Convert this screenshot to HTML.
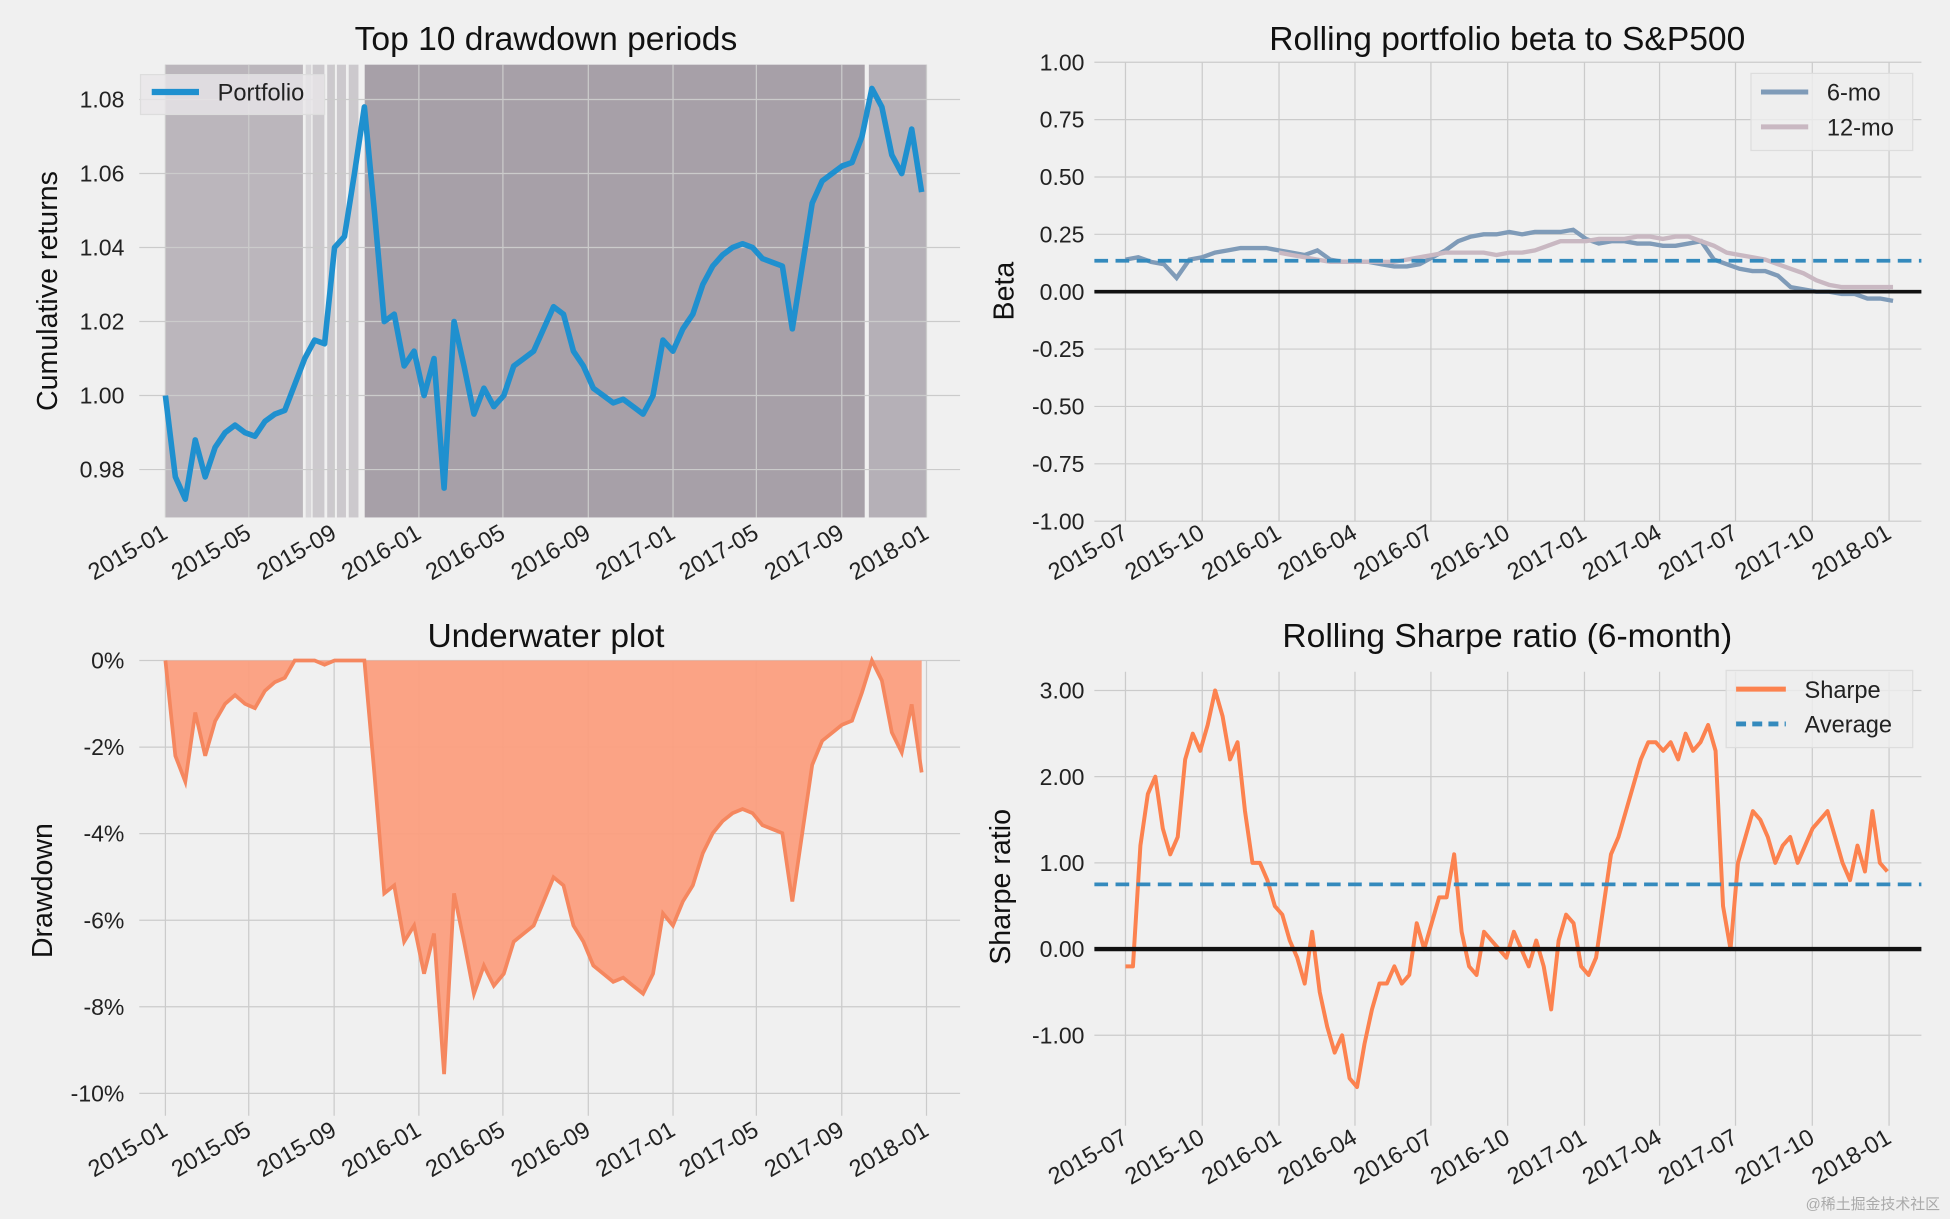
<!DOCTYPE html>
<html><head><meta charset="utf-8"><style>
html,body{margin:0;padding:0;background:#f0f0f0;}
svg{display:block;font-family:"Liberation Sans","DejaVu Sans",sans-serif;}
</style></head><body>
<svg id="root" width="1950" height="1219" viewBox="0 0 1568 980" preserveAspectRatio="none" xmlns="http://www.w3.org/2000/svg">
<rect x="0" y="0" width="1568" height="980" fill="#f0f0f0"/>
<g id="p1"></g>
<g id="p2"></g>
<g id="p3"></g>
<g id="p4"></g>
<text x="1560" y="972" font-size="12" fill="#aaaaaa" text-anchor="end" font-family="'Liberation Sans','Noto Sans CJK SC',sans-serif">@稀土掘金技术社区</text>
</svg>
<script>
// ---------- data ----------
const portfolioStart = '2015-01-01';
const portfolioStepDays = 14.33;
const portfolioValues = [1.000,0.978,0.972,0.988,0.978,0.986,0.990,0.992,0.990,0.989,0.993,0.995,0.996,1.003,1.010,1.015,1.014,1.040,1.043,1.060,1.078,1.050,1.020,1.022,1.008,1.012,1.000,1.010,0.975,1.020,1.008,0.995,1.002,0.997,1.000,1.008,1.010,1.012,1.018,1.024,1.022,1.012,1.008,1.002,1.000,0.998,0.999,0.997,0.995,1.000,1.015,1.012,1.018,1.022,1.030,1.035,1.038,1.040,1.041,1.040,1.037,1.036,1.035,1.018,1.035,1.052,1.058,1.060,1.062,1.063,1.070,1.083,1.078,1.065,1.060,1.072,1.055];
const drawdownStarts = ['2015-01-01','2015-07-22','2015-08-01','2015-08-22','2015-09-05','2015-09-22','2015-10-15','2017-10-10'];
const drawdownEnds   = ['2015-07-18','2015-07-30','2015-08-18','2015-09-02','2015-09-18','2015-10-06','2017-10-04','2018-01-01'];
const drawdownShade  = [0.45,0.2,0.3,0.3,0.3,0.3,0.62,0.5];
const cumTicks = [0.98,1.00,1.02,1.04,1.06,1.08];
const cumTickLabels = ['0.98','1.00','1.02','1.04','1.06','1.08'];
const ddTicks = [0,-0.02,-0.04,-0.06,-0.08,-0.10];
const ddTickLabels = ['0%','-2%','-4%','-6%','-8%','-10%'];
const leftDateTicks = ['2015-01-01','2015-05-01','2015-09-01','2016-01-01','2016-05-01','2016-09-01','2017-01-01','2017-05-01','2017-09-01','2018-01-01'];
const leftDateLabels = ['2015-01','2015-05','2015-09','2016-01','2016-05','2016-09','2017-01','2017-05','2017-09','2018-01'];

const betaStart = '2015-07-01';
const betaStepDays = 15.33;
const beta6 = [0.14,0.15,0.13,0.12,0.06,0.14,0.15,0.17,0.18,0.19,0.19,0.19,0.18,0.17,0.16,0.18,0.14,0.13,0.13,0.13,0.12,0.11,0.11,0.12,0.15,0.18,0.22,0.24,0.25,0.25,0.26,0.25,0.26,0.26,0.26,0.27,0.23,0.21,0.22,0.22,0.21,0.21,0.20,0.20,0.21,0.22,0.14,0.12,0.10,0.09,0.09,0.07,0.02,0.01,0.00,0.00,-0.01,-0.01,-0.03,-0.03,-0.04];
const beta12 = [null,null,null,null,null,null,null,null,null,null,null,null,0.17,0.16,0.15,0.14,0.13,0.13,0.13,0.13,0.13,0.13,0.14,0.15,0.16,0.17,0.17,0.17,0.17,0.16,0.17,0.17,0.18,0.20,0.22,0.22,0.22,0.23,0.23,0.23,0.24,0.24,0.23,0.24,0.24,0.22,0.20,0.17,0.16,0.15,0.14,0.12,0.10,0.08,0.05,0.03,0.02,0.02,0.02,0.02,0.02];
const betaAverage = 0.135;
const betaTicks = [-1,-0.75,-0.5,-0.25,0,0.25,0.5,0.75,1];
const betaTickLabels = ['-1.00','-0.75','-0.50','-0.25','0.00','0.25','0.50','0.75','1.00'];
const rightDateTicks = ['2015-07-01','2015-10-01','2016-01-01','2016-04-01','2016-07-01','2016-10-01','2017-01-01','2017-04-01','2017-07-01','2017-10-01','2018-01-01'];
const rightDateLabels = ['2015-07','2015-10','2016-01','2016-04','2016-07','2016-10','2017-01','2017-04','2017-07','2017-10','2018-01'];

const sharpeStart = '2015-07-01';
const sharpeStepDays = 8.95;
const sharpeValues = [-0.2,-0.2,1.2,1.8,2.0,1.4,1.1,1.3,2.2,2.5,2.3,2.6,3.0,2.7,2.2,2.4,1.6,1.0,1.0,0.8,0.5,0.4,0.1,-0.1,-0.4,0.2,-0.5,-0.9,-1.2,-1.0,-1.5,-1.6,-1.1,-0.7,-0.4,-0.4,-0.2,-0.4,-0.3,0.3,0.0,0.3,0.6,0.6,1.1,0.2,-0.2,-0.3,0.2,0.1,0.0,-0.1,0.2,0.0,-0.2,0.1,-0.2,-0.7,0.1,0.4,0.3,-0.2,-0.3,-0.1,0.5,1.1,1.3,1.6,1.9,2.2,2.4,2.4,2.3,2.4,2.2,2.5,2.3,2.4,2.6,2.3,0.5,0.0,1.0,1.3,1.6,1.5,1.3,1.0,1.2,1.3,1.0,1.2,1.4,1.5,1.6,1.3,1.0,0.8,1.2,0.9,1.6,1.0,0.9];
const sharpeAverage = 0.75;
const sharpeTicks = [-1,0,1,2,3];
const sharpeTickLabels = ['-1.00','0.00','1.00','2.00','3.00'];

// ---------- helpers ----------
const NS='http://www.w3.org/2000/svg';
function mk(parent,tag,attrs){const e=document.createElementNS(NS,tag);for(const k in attrs)e.setAttribute(k,attrs[k]);parent.appendChild(e);return e;}
const day=86400000;
function t(s){return Date.parse(s+'T00:00:00Z');}
function dateAt(start,step,i){return t(start)+i*step*day;}
function linX(d0,d1,p0,p1){const a=t(d0),b=t(d1);return v=>p0+(v-a)/(b-a)*(p1-p0);}
function linY(v0,v1,p0,p1){return v=>p0+(v-v0)/(v1-v0)*(p1-p0);}

function grid(g,xs,ys,x0,x1,y0,y1){
  xs.forEach(x=>{const l=mk(g,'line',{x1:x,x2:x,y1:y0,y2:y1,stroke:'#cbcbcb','stroke-width':1});
    });
  ys.forEach(y=>{const l=mk(g,'line',{x1:x0,x2:x1,y1:y,y2:y,stroke:'#cbcbcb','stroke-width':1});
    });
}
function xLabels(g,ticks,labels,X,y){
  ticks.forEach((d,i)=>{const x=X(t(d))+3;
    const e=mk(g,'text',{x:x,y:y,'font-size':19,fill:'#222','text-anchor':'end',transform:`rotate(-30 ${x} ${y})`});
    e.textContent=labels[i];
    
    });
}
function yLabels(g,ticks,labels,Y,x){
  ticks.forEach((v,i)=>{const e=mk(g,'text',{x:x,y:Y(v)+6.5,'font-size':18.5,fill:'#222','text-anchor':'end'});
    e.textContent=labels[i];
    
    });
}
function title(g,txt,x,y){const e=mk(g,'text',{x:x,y:y,'font-size':27,fill:'#111','text-anchor':'middle'});e.textContent=txt;
  }
function ylab(g,txt,x,y){const e=mk(g,'text',{x:x,y:y,'font-size':23,fill:'#111','text-anchor':'middle',transform:`rotate(-90 ${x} ${y})`});e.textContent=txt;
  }
function pathOf(vals,start,step,X,Y){let d='',pen=false;
  vals.forEach((v,i)=>{if(v===null){pen=false;return;}const px=X(dateAt(start,step,i)),py=Y(v);d+=(pen?'L':'M')+px.toFixed(1)+' '+py.toFixed(1)+' ';pen=true;});return d;}

// ---------- panel 1 ----------
(function(){
  const g=document.getElementById('p1');
  const X=linX('2015-01-01','2018-01-01',133,745), Y=linY(1.00,1.08,318,80);
  drawdownStarts.forEach((s,i)=>{const x0=X(t(s)),x1=X(t(drawdownEnds[i]));
    const r=mk(g,'rect',{x:x0,y:52,width:x1-x0,height:364,fill:'#7a6f7d','fill-opacity':drawdownShade[i]});
    });
  grid(g,leftDateTicks.map(d=>X(t(d))),cumTicks.map(Y),112,772,52,416);
  const p=mk(g,'path',{d:pathOf(portfolioValues,portfolioStart,portfolioStepDays,X,Y),fill:'none',stroke:'#1f90cf','stroke-width':4.5,'stroke-linejoin':'round'});
  
  yLabels(g,cumTicks,cumTickLabels,Y,100);xLabels(g,leftDateTicks,leftDateLabels,X,432);
  title(g,'Top 10 drawdown periods',439,40);ylab(g,'Cumulative returns',46,234);
  const lg=mk(g,'g',{});
  mk(lg,'rect',{x:113,y:60,width:148,height:32,fill:'#e8e6e8','fill-opacity':0.8,stroke:'#dddddd'});
  mk(lg,'line',{x1:122,x2:160,y1:74,y2:74,stroke:'#1f90cf','stroke-width':5});
  const lt=mk(lg,'text',{x:175,y:81,'font-size':19,fill:'#222'});lt.textContent='Portfolio';
})();

// ---------- panel 2 ----------
(function(){
  const g=document.getElementById('p2');
  const X=linX('2015-07-01','2018-01-01',905,1519), Y=linY(0,1,234.5,50);
  grid(g,rightDateTicks.map(d=>X(t(d))),betaTicks.map(Y),880,1545,50,419);
  const a=mk(g,'path',{d:pathOf(beta6,betaStart,betaStepDays,X,Y),fill:'none',stroke:'#7f9bb8','stroke-width':3.5});
  
  const b=mk(g,'path',{d:pathOf(beta12,betaStart,betaStepDays,X,Y),fill:'none',stroke:'#c9b8c2','stroke-width':3.5});
  
  const av=mk(g,'line',{x1:880,x2:1545,y1:Y(betaAverage),y2:Y(betaAverage),stroke:'#348abd','stroke-width':3,'stroke-dasharray':'11 6'});
  
  const z=mk(g,'line',{x1:880,x2:1545,y1:Y(0),y2:Y(0),stroke:'#111','stroke-width':3});
  
  yLabels(g,betaTicks,betaTickLabels,Y,872);xLabels(g,rightDateTicks,rightDateLabels,X,432);
  title(g,'Rolling portfolio beta to S&P500',1212,40);ylab(g,'Beta',815,234);
  const lg=mk(g,'g',{});
  mk(lg,'rect',{x:1408,y:59,width:130,height:62,fill:'#eeeeee','fill-opacity':0.8,stroke:'#dddddd'});
  mk(lg,'line',{x1:1416,x2:1454,y1:74,y2:74,stroke:'#7f9bb8','stroke-width':4});
  mk(lg,'line',{x1:1416,x2:1454,y1:102,y2:102,stroke:'#c9b8c2','stroke-width':4});
  let l1=mk(lg,'text',{x:1469,y:81,'font-size':19,fill:'#222'});l1.textContent='6-mo';
  let l2=mk(lg,'text',{x:1469,y:109,'font-size':19,fill:'#222'});l2.textContent='12-mo';
})();

// ---------- panel 3 ----------
(function(){
  const g=document.getElementById('p3');
  const X=linX('2015-01-01','2018-01-01',133,745), Y=linY(0,-0.10,531,879);
  grid(g,leftDateTicks.map(d=>X(t(d))),ddTicks.map(Y),112,772,531,897);
  let peak=-Infinity;const dd=portfolioValues.map(v=>{peak=Math.max(peak,v);return v/peak-1;});
  const line=pathOf(dd,portfolioStart,portfolioStepDays,X,Y);
  const lastX=X(dateAt(portfolioStart,portfolioStepDays,dd.length-1));
  const f=mk(g,'path',{d:line+`L${lastX} ${Y(0)} L${X(t(portfolioStart))} ${Y(0)} Z`,fill:'#fb9e7e','fill-opacity':0.95,stroke:'none'});
  
  const l=mk(g,'path',{d:line,fill:'none',stroke:'#f5875f','stroke-width':3});
  
  yLabels(g,ddTicks,ddTickLabels,Y,100);xLabels(g,leftDateTicks,leftDateLabels,X,912);
  title(g,'Underwater plot',439,520);ylab(g,'Drawdown',42,716);
})();

// ---------- panel 4 ----------
(function(){
  const g=document.getElementById('p4');
  const X=linX('2015-07-01','2018-01-01',905,1519), Y=linY(0,1,763,693.7);
  grid(g,rightDateTicks.map(d=>X(t(d))),sharpeTicks.map(Y),880,1545,540,905);
  const s=mk(g,'path',{d:pathOf(sharpeValues,sharpeStart,sharpeStepDays,X,Y),fill:'none',stroke:'#fc824f','stroke-width':3.2,'stroke-linejoin':'round'});
  
  const av=mk(g,'line',{x1:880,x2:1545,y1:Y(sharpeAverage),y2:Y(sharpeAverage),stroke:'#348abd','stroke-width':3,'stroke-dasharray':'11 6'});
  
  const z=mk(g,'line',{x1:880,x2:1545,y1:Y(0),y2:Y(0),stroke:'#111','stroke-width':3.5});
  
  yLabels(g,sharpeTicks,sharpeTickLabels,Y,872);xLabels(g,rightDateTicks,rightDateLabels,X,918);
  title(g,'Rolling Sharpe ratio (6-month)',1212,520);ylab(g,'Sharpe ratio',812,713);
  const lg=mk(g,'g',{});
  mk(lg,'rect',{x:1388,y:539,width:150,height:62,fill:'#eeeeee','fill-opacity':0.8,stroke:'#dddddd'});
  mk(lg,'line',{x1:1396,x2:1436,y1:554,y2:554,stroke:'#fc824f','stroke-width':4});
  mk(lg,'line',{x1:1396,x2:1436,y1:582,y2:582,stroke:'#348abd','stroke-width':4,'stroke-dasharray':'8 5'});
  let l1=mk(lg,'text',{x:1451,y:561,'font-size':19,fill:'#222'});l1.textContent='Sharpe';
  let l2=mk(lg,'text',{x:1451,y:589,'font-size':19,fill:'#222'});l2.textContent='Average';
})();
</script>
</body></html>
